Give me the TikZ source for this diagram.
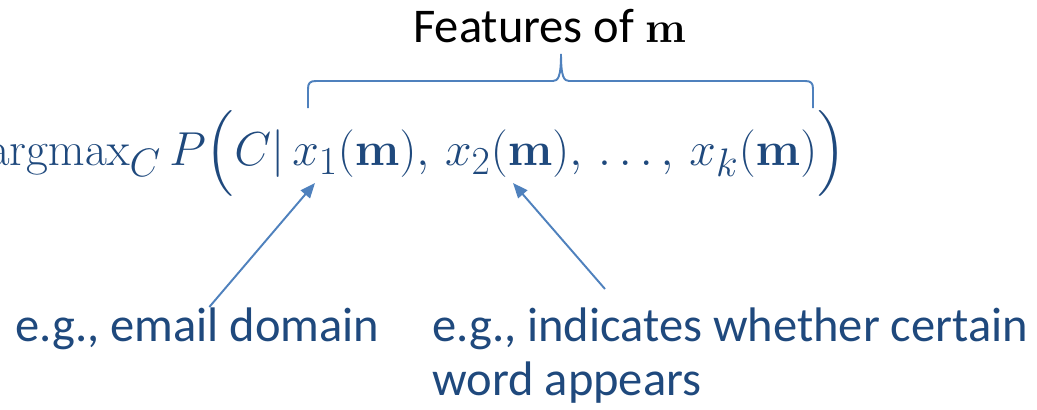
\documentclass[tikz,border=0pt]{standalone}
\usepackage{amsmath}
\usepackage[no-math]{fontspec}
\setmainfont{Carlito}
\usepackage{xcolor}
\usetikzlibrary{arrows.meta}
\definecolor{biruTua}{RGB}{31,73,125}
\definecolor{biruMuda}{RGB}{79,129,189}

\begin{document}
\begin{tikzpicture}[
    x=0.02cm, y=-0.02cm,
    font=\fontsize{27.6}{31}\selectfont,
    ket/.style={inner sep=0pt, text=biruTua, align=left},
    panah/.style={-{Triangle[length=3mm, width=2.4mm]}, biruMuda, line width=1.1pt},
    kurung/.style={biruMuda, line width=1.1pt}
  ]
    \useasboundingbox (0,0) rectangle (1037,409);

    % rumus utama
    \node[anchor=base east, inner sep=0pt, text=biruTua, scale=1.09, transform shape,
          font=\fontsize{24.88}{30}\selectfont] (rumus) at (846,165)
      {$\mathrm{argmax}_C\,P\Bigl(C|\,x_1(\mathbf{m}),\,x_2(\mathbf{m}),\,\ldots,\,x_k(\mathbf{m})\Bigr)$};

    % kurung kurawal di atas fitur
    \node[anchor=base west, inner sep=0pt] (judul) at (413,42) {Features of $\mathbf{m}$};
    \coordinate (kiri) at (308,108);
    \coordinate (puncak) at (561,54);
    \coordinate (kanan) at (813,108);
    \draw[kurung] (kiri) -- (308,89) .. controls (308,83) and (310,81) .. (316,81)
      -- (553,81) .. controls (558,81) and (561,77) .. (puncak)
      .. controls (561,77) and (564,81) .. (569,81)
      -- (805,81) .. controls (811,81) and (813,83) .. (813,89) -- (kanan);

    % keterangan
    \node[ket, anchor=base west] (email) at (15,341) {e.g., email domain};
    \node[ket, anchor=north west] (indikasi) at (432,307)
      {e.g., indicates whether certain\\word appears};

    \coordinate (ujungsatu) at (315,183);
    \coordinate (ujungdua) at (513,183);
    \draw[panah] ([xshift=0.24cm]email.north) -- (ujungsatu);
    \draw[panah] ([shift={(173,-18)}]indikasi.north west) -- (ujungdua);
\end{tikzpicture}
\end{document}
